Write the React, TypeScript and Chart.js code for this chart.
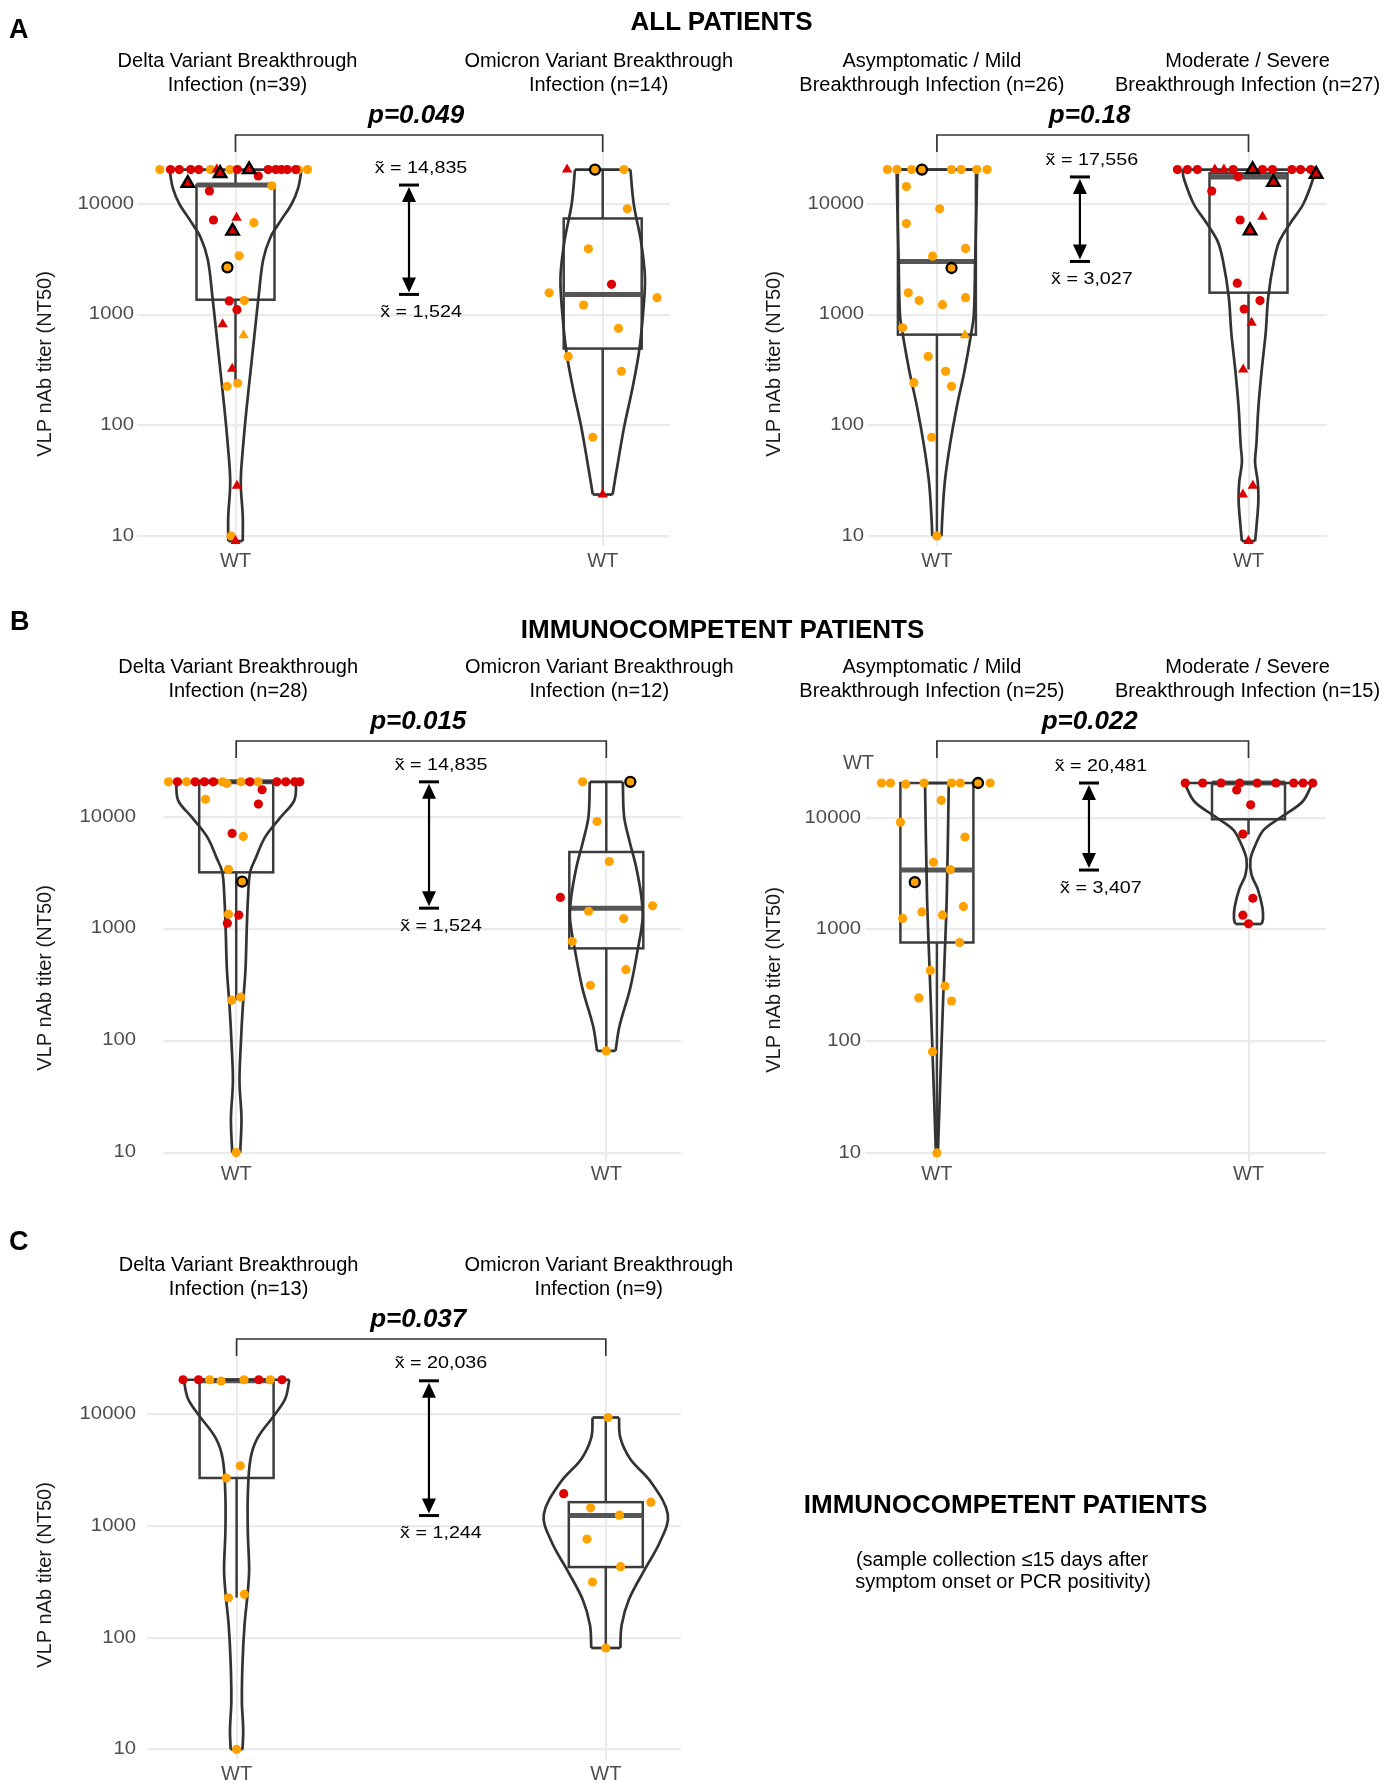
import React, { useEffect, useRef } from "react";
import { Chart, registerables } from "chart.js";
Chart.register(...registerables);

type Kind = "o" | "r" | "ot" | "rt" | "ob" | "rtb";
type Pt = [number, number, Kind]; // [titer, jitter (x units), marker kind]

// ======================= DATA =======================
const Y_TICKS = [10, 100, 1000, 10000];
const X_TICK_LABEL = "WT";
const Y_TITLE = "VLP nAb titer (NT50)";

// ---- Panel A, left: variant ----
const A1_LABELS: [string, string][] = [
  ["Delta Variant Breakthrough", "Infection (n=39)"],
  ["Omicron Variant Breakthrough", "Infection (n=14)"],
];
const A1_P = "p=0.049";
const A1_MEDIAN_TEXT = ["x\u0303 = 14,835", "x\u0303 = 1,524"];
const A1_DELTA_PTS: Pt[] = [
  [20480, -0.206, "o"], [20480, -0.177, "r"], [20480, -0.153, "r"], [20480, -0.122, "r"], [20480, -0.1, "r"],
  [20480, -0.068, "o"], [20480, -0.051, "rt"], [20480, -0.015, "o"], [20480, 0.005, "r"], [20480, 0.037, "rtb"],
  [20480, 0.089, "r"], [20480, 0.11, "r"], [20480, 0.125, "r"], [20480, 0.141, "r"], [20480, 0.164, "r"],
  [20480, 0.171, "o"], [20480, 0.196, "o"],
  [18900, -0.042, "rtb"], [17900, 0.062, "r"], [15400, -0.13, "rtb"], [14600, 0.099, "o"], [13100, -0.071, "r"],
  [7170, -0.06, "r"], [7520, 0.003, "rt"], [6780, 0.05, "o"], [5700, -0.008, "rtb"], [3400, 0.01, "o"], [2680, -0.022, "ob"],
  [1330, -0.017, "r"], [1340, 0.024, "o"], [1110, 0.004, "r"], [820, -0.035, "rt"], [650, 0.022, "ot"],
  [325, -0.009, "rt"], [225, -0.023, "o"], [240, 0.006, "o"], [28.5, 0.004, "rt"], [10, -0.012, "o"], [9, 0, "rt"],
];
const A1_OMICRON_PTS: Pt[] = [
  [20480, -0.097, "rt"], [20480, -0.021, "ob"], [20480, 0.058, "o"], [9050, 0.067, "o"], [3940, -0.039, "o"],
  [1880, 0.024, "r"], [1575, -0.146, "o"], [1425, 0.148, "o"], [1220, -0.052, "o"], [752, 0.043, "o"],
  [419, -0.094, "o"], [308, 0.051, "o"], [78, -0.027, "o"], [23.7, 0, "rt"],
];
// box stats: [lower whisker, Q1, median, Q3, upper whisker]
const A1_DELTA_BOX = [225, 1365, 14835, 14835, 20480];
const A1_OMICRON_BOX = [23.7, 494, 1524, 7400, 20480];
// violin outline: titer levels (descending) and relative density width
const A1_DELTA_VY = [20480, 14000, 10000, 7000, 5000, 3150, 1460, 680, 315, 146, 70, 31, 15, 9];
const A1_DELTA_VW = [1.0, 0.95, 0.85, 0.68, 0.53, 0.42, 0.35, 0.29, 0.23, 0.17, 0.12, 0.08, 0.11, 0.11];
const A1_OMICRON_VY = [20480, 10000, 4600, 2150, 1000, 460, 215, 100, 46, 23.7];
const A1_OMICRON_VW = [0.42, 0.47, 0.58, 0.64, 0.61, 0.55, 0.45, 0.33, 0.23, 0.15];

// ---- Panel A, right: severity ----
const A2_LABELS: [string, string][] = [
  ["Asymptomatic / Mild", "Breakthrough Infection (n=26)"],
  ["Moderate / Severe", "Breakthrough Infection (n=27)"],
];
const A2_P = "p=0.18";
const A2_MEDIAN_TEXT = ["x\u0303 = 17,556", "x\u0303 = 3,027"];
const A2_MILD_PTS: Pt[] = [
  [20480, -0.159, "o"], [20480, -0.128, "o"], [20480, -0.081, "o"], [20480, -0.048, "ob"], [20480, 0.047, "o"],
  [20480, 0.078, "o"], [20480, 0.128, "o"], [20480, 0.161, "o"],
  [14360, -0.098, "o"], [9050, 0.009, "o"], [6650, -0.098, "o"], [3970, 0.092, "o"], [3380, -0.014, "o"],
  [2640, 0.047, "ob"], [1575, -0.092, "o"], [1340, -0.057, "o"], [1230, 0.018, "o"], [1425, 0.092, "o"],
  [760, -0.11, "o"], [650, 0.09, "ot"], [419, -0.028, "o"], [308, 0.028, "o"], [243, -0.074, "o"],
  [225, 0.047, "o"], [78, -0.017, "o"], [10, 0, "o"],
];
const A2_SEVERE_PTS: Pt[] = [
  [20480, -0.228, "r"], [20480, -0.196, "r"], [20480, -0.164, "r"], [20480, -0.108, "rt"], [20480, -0.079, "rt"],
  [20480, -0.049, "r"], [20480, 0.013, "rtb"], [20480, 0.045, "r"], [20480, 0.077, "r"], [20480, 0.139, "r"],
  [20480, 0.167, "r"], [20480, 0.2, "r"], [18600, 0.217, "rtb"],
  [17650, -0.033, "r"], [15700, 0.08, "rtb"], [13100, -0.118, "r"], [7170, -0.027, "r"], [7680, 0.045, "rt"],
  [5740, 0.005, "rtb"], [1924, -0.036, "r"], [1340, 0.037, "r"], [1125, -0.014, "r"], [845, 0.01, "rt"],
  [320, -0.017, "rt"], [28.5, 0.014, "rt"], [23.7, -0.018, "rt"], [9, 0, "rt"],
];
const A2_MILD_BOX = [10, 660, 3027, 20480, 20480];
const A2_SEVERE_BOX = [320, 1580, 17556, 18900, 20480];
const A2_MILD_VY = [20480, 10000, 3150, 1000, 680, 315, 146, 68, 31, 14, 10];
const A2_MILD_VW = [0.61, 0.6, 0.58, 0.56, 0.52, 0.42, 0.3, 0.2, 0.12, 0.08, 0.07];
const A2_SEVERE_VY = [20480, 17000, 10000, 6800, 4640, 3150, 1460, 680, 315, 146, 68, 46, 31, 21, 12, 9];
const A2_SEVERE_VW = [1.0, 0.98, 0.83, 0.64, 0.47, 0.39, 0.3, 0.26, 0.2, 0.15, 0.12, 0.1, 0.14, 0.15, 0.12, 0.1];

// ---- Panel B, left: variant (immunocompetent) ----
const B1_LABELS: [string, string][] = [
  ["Delta Variant Breakthrough", "Infection (n=28)"],
  ["Omicron Variant Breakthrough", "Infection (n=12)"],
];
const B1_P = "p=0.015";
const B1_MEDIAN_TEXT = ["x\u0303 = 14,835", "x\u0303 = 1,524"];
const B1_DELTA_PTS: Pt[] = [
  [20480, -0.183, "o"], [20480, -0.159, "r"], [20480, -0.134, "o"], [20480, -0.111, "r"], [20480, -0.086, "r"],
  [20480, -0.062, "r"], [20480, -0.037, "o"], [19800, -0.025, "o"], [20480, 0.013, "o"], [20480, 0.037, "r"],
  [20480, 0.059, "o"], [20480, 0.11, "r"], [20480, 0.134, "r"], [20480, 0.158, "r"], [20480, 0.172, "r"],
  [17400, 0.07, "r"], [14300, -0.083, "o"], [12960, 0.06, "r"], [7094, -0.011, "r"], [6670, 0.019, "o"],
  [3385, -0.021, "o"], [2633, 0.016, "ob"], [1344, -0.021, "o"], [1323, 0.007, "r"], [1119, -0.024, "r"],
  [230, -0.012, "o"], [245, 0.012, "o"], [10, 0, "o"],
];
const B1_OMICRON_PTS: Pt[] = [
  [20480, -0.064, "o"], [20480, 0.065, "ob"], [9060, -0.025, "o"], [3980, 0.008, "o"], [1900, -0.124, "r"],
  [1600, 0.125, "o"], [1430, -0.048, "o"], [1230, 0.047, "o"], [767, -0.092, "o"], [430, 0.053, "o"],
  [312, -0.043, "o"], [81, 0, "o"],
];
const B1_DELTA_BOX = [230, 3185, 20480, 20480, 20480];
const B1_OMICRON_BOX = [81, 667, 1524, 4840, 20480];
const B1_DELTA_VY = [20480, 14000, 10000, 6600, 4200, 3180, 1950, 1000, 425, 200, 93, 43, 20, 10];
const B1_DELTA_VW = [0.91, 0.88, 0.68, 0.44, 0.29, 0.21, 0.18, 0.16, 0.14, 0.1, 0.07, 0.05, 0.08, 0.06];
const B1_OMICRON_VY = [20480, 10000, 6100, 3600, 1950, 1230, 620, 290, 135, 81];
const B1_OMICRON_VW = [0.25, 0.27, 0.35, 0.45, 0.53, 0.55, 0.47, 0.36, 0.2, 0.14];

// ---- Panel B, right: severity (immunocompetent) ----
const B2_LABELS: [string, string][] = [
  ["Asymptomatic / Mild", "Breakthrough Infection (n=25)"],
  ["Moderate / Severe", "Breakthrough Infection (n=15)"],
];
const B2_P = "p=0.022";
const B2_MEDIAN_TEXT = ["x\u0303 = 20,481", "x\u0303 = 3,407"];
const B2_EXTRA_TEXT = "WT";
const B2_MILD_PTS: Pt[] = [
  [20480, -0.178, "o"], [20480, -0.149, "o"], [20000, -0.1, "o"], [20480, -0.041, "o"], [20480, 0.047, "o"],
  [20480, 0.075, "o"], [20480, 0.132, "ob"], [20480, 0.171, "o"],
  [14330, 0.014, "o"], [9125, -0.117, "o"], [6723, 0.09, "o"], [4000, -0.011, "o"], [3436, 0.043, "o"],
  [2650, -0.071, "ob"], [1257, -0.11, "o"], [1436, -0.048, "o"], [1350, 0.018, "o"], [1610, 0.085, "o"],
  [763, 0.073, "o"], [430, -0.021, "o"], [312, 0.026, "o"], [244, -0.058, "o"], [229, 0.047, "o"],
  [80.5, -0.014, "o"], [10, 0, "o"],
];
const B2_SEVERE_PTS: Pt[] = [
  [20480, -0.203, "r"], [20480, -0.147, "r"], [20480, -0.088, "r"], [20480, -0.028, "r"], [20480, 0.028, "r"],
  [20480, 0.088, "r"], [20480, 0.145, "r"], [20480, 0.175, "r"], [20480, 0.206, "r"],
  [17730, -0.038, "r"], [13060, 0.007, "r"], [7148, -0.018, "r"], [1905, 0.014, "r"], [1343, -0.018, "r"],
  [1125, 0, "r"],
];
const B2_MILD_BOX = [10, 765, 3407, 20480, 20480];
const B2_SEVERE_BOX = [7100, 9700, 20481, 20481, 20481];
const B2_MILD_VY = [20480, 2000, 430, 92, 10];
const B2_MILD_VW = [0.18, 0.15, 0.11, 0.07, 0.015];
const B2_SEVERE_VY = [20480, 14000, 10200, 7800, 5800, 4250, 3100, 2300, 1580, 1250, 1120];
const B2_SEVERE_VW = [0.97, 0.82, 0.5, 0.23, 0.11, 0.03, 0.045, 0.14, 0.21, 0.22, 0.2];

// ---- Panel C: variant, immunocompetent, early sampling ----
const C1_LABELS: [string, string][] = [
  ["Delta Variant Breakthrough", "Infection (n=13)"],
  ["Omicron Variant Breakthrough", "Infection (n=9)"],
];
const C1_P = "p=0.037";
const C1_MEDIAN_TEXT = ["x\u0303 = 20,036", "x\u0303 = 1,244"];
const C1_DELTA_PTS: Pt[] = [
  [20480, -0.145, "r"], [20480, -0.103, "r"], [20480, -0.073, "o"], [19950, -0.042, "o"], [20480, 0.02, "o"],
  [20480, 0.06, "r"], [20480, 0.091, "o"], [20480, 0.123, "r"],
  [3470, 0.01, "o"], [2695, -0.028, "o"], [228, -0.022, "o"], [245, 0.021, "o"], [10, 0, "o"],
];
const C1_OMICRON_PTS: Pt[] = [
  [9400, 0.006, "o"], [1955, -0.114, "r"], [1640, 0.122, "o"], [1460, -0.041, "o"], [1254, 0.037, "o"],
  [766, -0.051, "o"], [433, 0.04, "o"], [316, -0.036, "o"], [81, 0, "o"],
];
const C1_DELTA_BOX = [229, 2700, 20036, 20480, 20480];
const C1_OMICRON_BOX = [81, 430, 1244, 1640, 9400];
const C1_DELTA_VY = [20480, 14000, 10000, 6200, 4000, 1900, 880, 410, 260, 130, 60, 27, 15, 10];
const C1_DELTA_VW = [0.8, 0.74, 0.58, 0.32, 0.21, 0.17, 0.17, 0.19, 0.17, 0.12, 0.09, 0.08, 0.1, 0.09];
const C1_OMICRON_VY = [9400, 6200, 4000, 2500, 1270, 720, 400, 220, 130, 81];
const C1_OMICRON_VW = [0.2, 0.22, 0.37, 0.68, 0.94, 0.82, 0.58, 0.35, 0.24, 0.22];

// Headings
const HEAD_A = "A";
const HEAD_B = "B";
const HEAD_C = "C";
const TITLE_A = "ALL PATIENTS";
const TITLE_B = "IMMUNOCOMPETENT PATIENTS";
const TITLE_C = "IMMUNOCOMPETENT PATIENTS";
const NOTE_C = ["(sample collection \u226415 days after", "symptom onset or PCR positivity)"];

// ======================= STYLE / LAYOUT =======================
const FONT = '"Liberation Sans", Arial, Helvetica, sans-serif';
const ORANGE = "#FFA200";
const RED = "#DC0000";
const GRID = "#EBEBEB";
const VIOLIN_COLOR = "#333333";
const BOX_COLOR = "#3C3C3C";
const MEDIAN_COLOR = "#555555";
const TICK_COLOR = "#4D4D4D";
const VIOLIN_HALF_PX = 66;

const KIND_STYLE: Record<Kind, { style: string; bg: string; border: string; bw: number; r: number }> = {
  o: { style: "circle", bg: ORANGE, border: ORANGE, bw: 0, r: 4.6 },
  r: { style: "circle", bg: RED, border: RED, bw: 0, r: 4.6 },
  ot: { style: "triangle", bg: ORANGE, border: ORANGE, bw: 0, r: 6 },
  rt: { style: "triangle", bg: RED, border: RED, bw: 0, r: 6 },
  ob: { style: "circle", bg: ORANGE, border: "#000000", bw: 2.3, r: 5 },
  rtb: { style: "triangle", bg: RED, border: "#000000", bw: 2.4, r: 7.2 },
};
const KIND_ORDER: Kind[] = ["rtb", "ob", "rt", "ot", "r", "o"];

interface Group {
  cat: number;
  pts: Pt[];
  box: number[];
  vy: number[];
  vw: number[];
  label: [string, string];
}
interface PanelData {
  groups: Group[];
  p: string;
  medianText: string[];
  extra?: string;
}
interface Layout {
  left: number; top: number; W: number; H: number;
  L: number; R: number; T: number; B: number;
  cat1Px: number; cat2Px: number; g4: number; g1: number;
  tickPad: number; titleX: number; titleY: number; wtY: number;
  arrowX: number; boxHalf: number; labelDx: number[]; extraX?: number; extraY?: number;
}

const mk = (cat: number, pts: Pt[], box: number[], vy: number[], vw: number[], label: [string, string]): Group =>
  ({ cat, pts, box, vy, vw, label });

const PANELS: { data: PanelData; lay: Layout }[] = [
  {
    data: {
      groups: [
        mk(1, A1_DELTA_PTS, A1_DELTA_BOX, A1_DELTA_VY, A1_DELTA_VW, A1_LABELS[0]),
        mk(2, A1_OMICRON_PTS, A1_OMICRON_BOX, A1_OMICRON_VY, A1_OMICRON_VW, A1_LABELS[1]),
      ],
      p: A1_P, medianText: A1_MEDIAN_TEXT,
    },
    lay: { left: 0, top: 0, W: 760, H: 595, L: 137, R: 670, T: 151, B: 546, cat1Px: 235.5, cat2Px: 602.7,
      g4: 204, g1: 536, tickPad: 3, titleX: 45, titleY: 364, wtY: 561, arrowX: 1.4725, boxHalf: 39, labelDx: [2, -4] },
  },
  {
    data: {
      groups: [
        mk(1, A2_MILD_PTS, A2_MILD_BOX, A2_MILD_VY, A2_MILD_VW, A2_LABELS[0]),
        mk(2, A2_SEVERE_PTS, A2_SEVERE_BOX, A2_SEVERE_VY, A2_SEVERE_VW, A2_LABELS[1]),
      ],
      p: A2_P, medianText: A2_MEDIAN_TEXT,
    },
    lay: { left: 690, top: 0, W: 695, H: 595, L: 177, R: 637, T: 151, B: 546, cat1Px: 246.9, cat2Px: 558.5,
      g4: 204, g1: 536, tickPad: 3, titleX: 84, titleY: 364, wtY: 561, arrowX: 1.459, boxHalf: 39, labelDx: [-5, -1] },
  },
  {
    data: {
      groups: [
        mk(1, B1_DELTA_PTS, B1_DELTA_BOX, B1_DELTA_VY, B1_DELTA_VW, B1_LABELS[0]),
        mk(2, B1_OMICRON_PTS, B1_OMICRON_BOX, B1_OMICRON_VY, B1_OMICRON_VW, B1_LABELS[1]),
      ],
      p: B1_P, medianText: B1_MEDIAN_TEXT,
    },
    lay: { left: 0, top: 600, W: 760, H: 595, L: 163, R: 681, T: 157, B: 562, cat1Px: 236.2, cat2Px: 606.3,
      g4: 216.7, g1: 552.6, tickPad: 27, titleX: 45, titleY: 378, wtY: 574, arrowX: 1.521, boxHalf: 37, labelDx: [2, -7] },
  },
  {
    data: {
      groups: [
        mk(1, B2_MILD_PTS, B2_MILD_BOX, B2_MILD_VY, B2_MILD_VW, B2_LABELS[0]),
        mk(2, B2_SEVERE_PTS, B2_SEVERE_BOX, B2_SEVERE_VY, B2_SEVERE_VW, B2_LABELS[1]),
      ],
      p: B2_P, medianText: B2_MEDIAN_TEXT, extra: B2_EXTRA_TEXT,
    },
    lay: { left: 690, top: 600, W: 695, H: 595, L: 175, R: 636, T: 157, B: 562, cat1Px: 246.9, cat2Px: 558.5,
      g4: 217.8, g1: 552.9, tickPad: 4, titleX: 84, titleY: 380, wtY: 574, arrowX: 1.488, boxHalf: 36.5,
      labelDx: [-5, -1], extraX: 168.5, extraY: 163 },
  },
  {
    data: {
      groups: [
        mk(1, C1_DELTA_PTS, C1_DELTA_BOX, C1_DELTA_VY, C1_DELTA_VW, C1_LABELS[0]),
        mk(2, C1_OMICRON_PTS, C1_OMICRON_BOX, C1_OMICRON_VY, C1_OMICRON_VW, C1_LABELS[1]),
      ],
      p: C1_P, medianText: C1_MEDIAN_TEXT,
    },
    lay: { left: 0, top: 1200, W: 760, H: 583, L: 147, R: 681, T: 155, B: 560, cat1Px: 236.6, cat2Px: 605.8,
      g4: 214.5, g1: 549.4, tickPad: 11, titleX: 45, titleY: 375, wtY: 574, arrowX: 1.521, boxHalf: 37, labelDx: [2, -7] },
  },
];

// ======================= DRAW HELPERS =======================
function text(ctx: CanvasRenderingContext2D, s: string, x: number, y: number, font: string, color: string,
  align: CanvasTextAlign = "center", sx = 1) {
  ctx.save();
  ctx.translate(x, y);
  ctx.scale(sx, 1);
  ctx.font = font;
  ctx.fillStyle = color;
  ctx.textAlign = align;
  ctx.textBaseline = "middle";
  ctx.fillText(s, 0, 0);
  ctx.restore();
}
function seg(ctx: CanvasRenderingContext2D, x1: number, y1: number, x2: number, y2: number) {
  ctx.beginPath();
  ctx.moveTo(x1, y1);
  ctx.lineTo(x2, y2);
  ctx.stroke();
}

function makePlugin(pd: PanelData, lay: Layout) {
  return {
    id: "panelDecor",
    beforeDatasetsDraw(chart: any) {
      const ctx: CanvasRenderingContext2D = chart.ctx;
      const xs = chart.scales.x;
      const ys = chart.scales.y;
      const y = (v: number) => ys.getPixelForValue(v);
      ctx.save();
      ctx.lineCap = "butt";
      pd.groups.forEach((g) => {
        const cx = xs.getPixelForValue(g.cat);
        const [lo, q1, med, q3, hi] = g.box;
        ctx.strokeStyle = BOX_COLOR;
        ctx.lineWidth = 2.5;
        if (hi > q3) seg(ctx, cx, y(hi), cx, y(q3));
        if (lo < q1) seg(ctx, cx, y(q1), cx, y(lo));
        ctx.strokeRect(cx - lay.boxHalf, y(q3), lay.boxHalf * 2, y(q1) - y(q3));
        ctx.strokeStyle = MEDIAN_COLOR;
        ctx.lineWidth = 5;
        seg(ctx, cx - lay.boxHalf, y(med), cx + lay.boxHalf, y(med));
      });
      ctx.restore();
    },
    afterDraw(chart: any) {
      const ctx: CanvasRenderingContext2D = chart.ctx;
      const xs = chart.scales.x;
      const ys = chart.scales.y;
      const { top: T, left: L } = chart.chartArea;
      const c1 = xs.getPixelForValue(1);
      const c2 = xs.getPixelForValue(2);

      // y tick labels
      Y_TICKS.forEach((v) =>
        text(ctx, String(v), L - lay.tickPad, ys.getPixelForValue(v), `17.5px ${FONT}`, TICK_COLOR, "right", 1.16));
      // x tick labels
      [1, 2].forEach((c) => text(ctx, X_TICK_LABEL, xs.getPixelForValue(c), lay.wtY, `20px ${FONT}`, TICK_COLOR));
      if (pd.extra && lay.extraX !== undefined && lay.extraY !== undefined)
        text(ctx, pd.extra, lay.extraX, lay.extraY, `20px ${FONT}`, TICK_COLOR);

      // y title
      ctx.save();
      ctx.translate(lay.titleX, lay.titleY);
      ctx.rotate(-Math.PI / 2);
      ctx.font = `20px ${FONT}`;
      ctx.fillStyle = "#1A1A1A";
      ctx.textAlign = "center";
      ctx.textBaseline = "middle";
      ctx.fillText(Y_TITLE, 0, 0);
      ctx.restore();

      // group labels
      pd.groups.forEach((g, gi) => {
        const cx = xs.getPixelForValue(g.cat) + lay.labelDx[gi];
        text(ctx, g.label[0], cx, T - 90, `20px ${FONT}`, "#000");
        text(ctx, g.label[1], cx, T - 66, `20px ${FONT}`, "#000");
      });

      // p-value + bracket
      text(ctx, pd.p, (c1 + c2) / 2 - 3, T - 35, `italic bold 26px ${FONT}`, "#000");
      ctx.save();
      ctx.strokeStyle = "#333";
      ctx.lineWidth = 1.7;
      ctx.beginPath();
      ctx.moveTo(c1, T + 1);
      ctx.lineTo(c1, T - 16);
      ctx.lineTo(c2, T - 16);
      ctx.lineTo(c2, T + 1);
      ctx.stroke();
      ctx.restore();

      // median difference arrow
      const ax = xs.getPixelForValue(lay.arrowX);
      const m1 = ys.getPixelForValue(pd.groups[0].box[2]);
      const m2 = ys.getPixelForValue(pd.groups[1].box[2]);
      const yTop = Math.min(m1, m2);
      const yBot = Math.max(m1, m2);
      ctx.save();
      ctx.strokeStyle = "#000";
      ctx.fillStyle = "#000";
      ctx.lineWidth = 3;
      seg(ctx, ax - 10, yTop, ax + 10, yTop);
      seg(ctx, ax - 10, yBot, ax + 10, yBot);
      ctx.lineWidth = 2.2;
      seg(ctx, ax, yTop + 6, ax, yBot - 6);
      ctx.beginPath();
      ctx.moveTo(ax, yTop + 2);
      ctx.lineTo(ax - 7, yTop + 17);
      ctx.lineTo(ax + 7, yTop + 17);
      ctx.closePath();
      ctx.fill();
      ctx.beginPath();
      ctx.moveTo(ax, yBot - 2);
      ctx.lineTo(ax - 7, yBot - 17);
      ctx.lineTo(ax + 7, yBot - 17);
      ctx.closePath();
      ctx.fill();
      ctx.restore();
      text(ctx, pd.medianText[0], ax + 12, yTop - 17, `17px ${FONT}`, "#000", "center", 1.16);
      text(ctx, pd.medianText[1], ax + 12, yBot + 18, `17px ${FONT}`, "#000", "center", 1.16);
    },
  };
}

function makeChart(canvas: HTMLCanvasElement, pd: PanelData, lay: Layout) {
  const unitPx = lay.cat2Px - lay.cat1Px;
  const xMin = 1 - (lay.cat1Px - lay.L) / unitPx;
  const xMax = 2 + (lay.R - lay.cat2Px) / unitPx;
  const dec = (lay.g1 - lay.g4) / 3;
  const yMax = Math.pow(10, 4 + (lay.g4 - lay.T) / dec);
  const yMin = Math.pow(10, 1 - (lay.B - lay.g1) / dec);

  const datasets: any[] = [];
  KIND_ORDER.forEach((k, ki) => {
    const d: { x: number; y: number }[] = [];
    pd.groups.forEach((g) => g.pts.forEach((p) => { if (p[2] === k) d.push({ x: g.cat + p[1], y: p[0] }); }));
    if (!d.length) return;
    const s = KIND_STYLE[k];
    datasets.push({
      type: "scatter", data: d, showLine: false, order: ki, clip: false,
      pointStyle: s.style, pointRadius: s.r, pointHoverRadius: s.r,
      backgroundColor: s.bg, borderColor: s.border,
      pointBackgroundColor: s.bg, pointBorderColor: s.border, pointBorderWidth: s.bw,
    });
  });
  const wScale = VIOLIN_HALF_PX / unitPx;
  pd.groups.forEach((g) => {
    const right = g.vy.map((v, i) => ({ x: g.cat + g.vw[i] * wScale, y: v }));
    const left = g.vy.map((v, i) => ({ x: g.cat - g.vw[i] * wScale, y: v }));
    const n = g.vy.length;
    const common = {
      type: "scatter", showLine: true, borderColor: VIOLIN_COLOR, backgroundColor: VIOLIN_COLOR,
      borderWidth: 2.7, pointRadius: 0, pointHoverRadius: 0, fill: false, order: 20, clip: false,
    };
    datasets.push({ ...common, data: right, tension: 0.35 });
    datasets.push({ ...common, data: left, tension: 0.35 });
    datasets.push({ ...common, data: [left[0], right[0]], tension: 0 });
    datasets.push({ ...common, data: [left[n - 1], right[n - 1]], tension: 0 });
  });

  return new Chart(canvas, {
    type: "scatter",
    data: { datasets },
    options: {
      responsive: false,
      animation: false,
      events: [],
      layout: { padding: { left: 0, top: lay.T, right: lay.W - lay.R, bottom: 0 }, autoPadding: false },
      plugins: { legend: { display: false }, tooltip: { enabled: false }, title: { display: false } },
      scales: {
        x: {
          type: "linear", min: xMin, max: xMax,
          ticks: { display: false },
          grid: { color: GRID, lineWidth: 2, drawTicks: false },
          border: { display: false },
          afterBuildTicks: (s: any) => { s.ticks = [{ value: 1 }, { value: 2 }]; },
          afterFit: (s: any) => { s.height = lay.H - lay.B; },
        },
        y: {
          type: "logarithmic", min: yMin, max: yMax,
          ticks: { display: false },
          grid: { color: GRID, lineWidth: 2.2, drawTicks: false },
          border: { display: false },
          afterBuildTicks: (s: any) => { s.ticks = Y_TICKS.map((v) => ({ value: v })); },
          afterFit: (s: any) => { s.width = lay.L; },
        },
      },
    } as any,
    plugins: [makePlugin(pd, lay)],
  } as any);
}

function Panel({ data, lay }: { data: PanelData; lay: Layout }) {
  const ref = useRef<HTMLCanvasElement>(null);
  useEffect(() => {
    if (!ref.current) return;
    const chart = makeChart(ref.current, data, lay);
    return () => chart.destroy();
  }, []);
  return (
    <canvas
      ref={ref}
      width={lay.W}
      height={lay.H}
      style={{ position: "absolute", left: lay.left, top: lay.top, width: lay.W, height: lay.H }}
    />
  );
}

function Heading({ t, x, y, size, bold, align }: { t: string; x: number; y: number; size: number; bold?: boolean; align: "left" | "center" }) {
  const w = 700;
  return (
    <div
      style={{
        position: "absolute",
        left: align === "center" ? x - w / 2 : x,
        top: y - size / 2,
        width: align === "center" ? w : undefined,
        textAlign: align,
        fontFamily: FONT,
        fontSize: size,
        lineHeight: `${size}px`,
        fontWeight: bold ? 700 : 400,
        color: "#000",
        whiteSpace: "nowrap",
        zIndex: 2,
      }}
    >
      {t}
    </div>
  );
}

export default function App() {
  return (
    <div style={{ position: "absolute", left: 0, top: 0, width: 1385, height: 1783, background: "#fff", overflow: "hidden" }}>
      {PANELS.map((p, i) => (
        <Panel key={i} data={p.data} lay={p.lay} />
      ))}
      <Heading t={HEAD_A} x={9} y={29} size={27} bold align="left" />
      <Heading t={TITLE_A} x={721.5} y={20.5} size={26} bold align="center" />
      <Heading t={HEAD_B} x={10} y={621} size={27} bold align="left" />
      <Heading t={TITLE_B} x={722.5} y={629} size={26} bold align="center" />
      <Heading t={HEAD_C} x={9} y={1241} size={27} bold align="left" />
      <Heading t={TITLE_C} x={1005.5} y={1504} size={26} bold align="center" />
      <Heading t={NOTE_C[0]} x={1002} y={1559} size={20} align="center" />
      <Heading t={NOTE_C[1]} x={1003} y={1581} size={20} align="center" />
    </div>
  );
}
